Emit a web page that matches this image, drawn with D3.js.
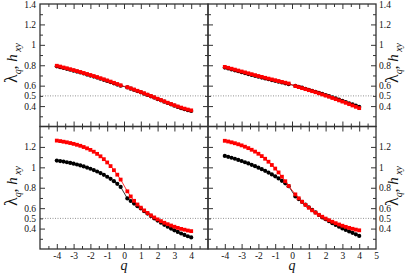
<!DOCTYPE html>
<html>
<head>
<meta charset="utf-8">
<script src="https://cdn.jsdelivr.net/npm/d3@7"></script>
<style>
body { margin: 0; background: #fff; }
</style>
</head>
<body>
<div id="chart"></div>
<script>
// q grid (q = 0 itself is not sampled)
var qVals = [-4, -3.8, -3.6, -3.4, -3.2, -3, -2.8, -2.6, -2.4, -2.2, -2, -1.8, -1.6, -1.4, -1.2, -1, -0.8, -0.6, -0.4, -0.2,
             0.2, 0.4, 0.6, 0.8, 1, 1.2, 1.4, 1.6, 1.8, 2, 2.2, 2.4, 2.6, 2.8, 3, 3.2, 3.4, 3.6, 3.8, 4];

// top left
var tlRed = [0.795, 0.787, 0.778, 0.770, 0.761, 0.752, 0.743, 0.734, 0.724, 0.714, 0.704, 0.694, 0.684, 0.673, 0.662, 0.651, 0.640, 0.628, 0.616, 0.604,
             0.585, 0.574, 0.562, 0.550, 0.538, 0.525, 0.512, 0.499, 0.486, 0.472, 0.459, 0.446, 0.433, 0.420, 0.408, 0.396, 0.385, 0.375, 0.366, 0.358];
var tlBlack = [0.789, 0.781, 0.773, 0.765, 0.756, 0.747, 0.738, 0.729, 0.719, 0.709, 0.699, 0.689, 0.679, 0.668, 0.657, 0.646, 0.635, 0.623, 0.611, 0.599,
               0.583, 0.571, 0.559, 0.547, 0.535, 0.522, 0.509, 0.496, 0.483, 0.469, 0.456, 0.443, 0.430, 0.417, 0.404, 0.392, 0.380, 0.370, 0.360, 0.352];
// top right
var trRed = [0.784, 0.775, 0.766, 0.757, 0.748, 0.739, 0.730, 0.721, 0.712, 0.703, 0.694, 0.686, 0.677, 0.669, 0.661, 0.653, 0.645, 0.637, 0.629, 0.621,
             0.596, 0.586, 0.576, 0.566, 0.556, 0.546, 0.536, 0.525, 0.514, 0.503, 0.492, 0.480, 0.468, 0.456, 0.444, 0.432, 0.419, 0.406, 0.393, 0.380];
var trBlack = [0.777, 0.768, 0.759, 0.750, 0.741, 0.732, 0.723, 0.714, 0.705, 0.696, 0.688, 0.679, 0.671, 0.663, 0.655, 0.647, 0.639, 0.631, 0.623, 0.615,
               0.598, 0.589, 0.580, 0.570, 0.560, 0.550, 0.540, 0.530, 0.519, 0.508, 0.497, 0.486, 0.475, 0.463, 0.451, 0.440, 0.428, 0.416, 0.404, 0.392];
// bottom left
var blRed = [1.262, 1.257, 1.251, 1.245, 1.238, 1.230, 1.221, 1.211, 1.199, 1.186, 1.171, 1.153, 1.132, 1.108, 1.080, 1.048, 1.012, 0.972, 0.928, 0.880,
             0.765, 0.715, 0.672, 0.636, 0.605, 0.578, 0.553, 0.530, 0.509, 0.490, 0.473, 0.457, 0.443, 0.430, 0.418, 0.407, 0.397, 0.389, 0.381, 0.375];
var blBlack = [1.066, 1.061, 1.056, 1.050, 1.043, 1.036, 1.028, 1.019, 1.009, 0.998, 0.986, 0.973, 0.959, 0.944, 0.927, 0.908, 0.887, 0.864, 0.838, 0.808,
               0.695, 0.670, 0.645, 0.620, 0.597, 0.570, 0.547, 0.524, 0.500, 0.478, 0.457, 0.437, 0.418, 0.400, 0.383, 0.367, 0.352, 0.338, 0.325, 0.313];
// bottom right
var brRed = [1.260, 1.253, 1.245, 1.236, 1.226, 1.215, 1.202, 1.188, 1.172, 1.154, 1.133, 1.110, 1.084, 1.055, 1.023, 0.988, 0.950, 0.908, 0.864, 0.818,
             0.735, 0.697, 0.663, 0.632, 0.604, 0.579, 0.556, 0.535, 0.516, 0.498, 0.482, 0.467, 0.453, 0.440, 0.428, 0.417, 0.407, 0.398, 0.390, 0.383];
var brBlack = [1.112, 1.103, 1.094, 1.084, 1.073, 1.062, 1.050, 1.038, 1.025, 1.011, 0.997, 0.982, 0.966, 0.949, 0.931, 0.912, 0.891, 0.868, 0.843, 0.815,
               0.715, 0.689, 0.662, 0.635, 0.609, 0.583, 0.558, 0.533, 0.509, 0.492, 0.472, 0.453, 0.435, 0.418, 0.402, 0.387, 0.372, 0.358, 0.344, 0.328];

var xMajor = [-4, -3, -2, -1, 0, 1, 2, 3, 4];
var xMinor = [-4.5, -3.5, -2.5, -1.5, -0.5, 0.5, 1.5, 2.5, 3.5, 4.5];
var xLabelsLeft = [-4, -3, -2, -1, 0, 1, 2, 3, 4];
var xLabelsRight = [-4, -3, -2, -1, 0, 1, 2, 3, 4, 5];
var yMajor = [0.4, 0.6, 0.8, 1, 1.2];
var yMinor = [0.3, 0.5, 0.7, 0.9, 1.1, 1.3];
var yLabelsTop = [0.4, 0.5, 0.6, 0.8, 1, 1.2, 1.4];
var yLabelsBottom = [0.4, 0.5, 0.6, 0.8, 1, 1.2];

var W = 415, H = 274;
var serif = "'Liberation Serif', 'DejaVu Serif', serif";
var axisColor = "#333";

var svg = d3.select("#chart").append("svg")
    .attr("width", W)
    .attr("height", H);

function styleAxis(g, size) {
    g.select(".domain").remove();
    g.attr("font-family", serif).attr("font-size", size || 9.5);
    g.selectAll("line").attr("stroke", axisColor);
    g.selectAll("text").attr("fill", "#111");
}

function drawPanel(x0, y0, w, h, redVals, blackVals, opt) {
    var x = d3.scaleLinear().domain([-5, 5]).range([x0, x0 + w]);
    var y = d3.scaleLinear().domain([0.2, 1.4]).range([y0 + h, y0]);
    var g = svg.append("g");

    // reference line at 0.5
    g.append("line")
        .attr("x1", x0).attr("x2", x0 + w)
        .attr("y1", y(0.5)).attr("y2", y(0.5))
        .attr("stroke", "#777")
        .attr("stroke-width", 0.8)
        .attr("stroke-dasharray", "1,1.5");

    // inward ticks on all four sides
    var sides = [
        [d3.axisLeft, "translate(" + x0 + ",0)", y, yMajor, yMinor],
        [d3.axisRight, "translate(" + (x0 + w) + ",0)", y, yMajor, yMinor],
        [d3.axisTop, "translate(0," + y0 + ")", x, xMajor, xMinor],
        [d3.axisBottom, "translate(0," + (y0 + h) + ")", x, xMajor, xMinor]
    ];
    sides.forEach(function(s) {
        g.append("g").attr("transform", s[1])
            .call(s[0](s[2]).tickValues(s[3]).tickSize(-5).tickSizeOuter(0).tickFormat(""))
            .call(styleAxis);
        g.append("g").attr("transform", s[1])
            .call(s[0](s[2]).tickValues(s[4]).tickSize(-3).tickSizeOuter(0).tickFormat(""))
            .call(styleAxis);
    });

    // tick labels
    if (opt.yLeft) {
        g.append("g").attr("transform", "translate(" + x0 + ",0)")
            .call(d3.axisLeft(y).tickValues(opt.yLabels).tickSize(0).tickPadding(4).tickFormat(d => String(d)))
            .call(styleAxis);
    } else {
        g.append("g").attr("transform", "translate(" + (x0 + w) + ",0)")
            .call(d3.axisRight(y).tickValues(opt.yLabels).tickSize(0).tickPadding(3).tickFormat(d => String(d)))
            .call(styleAxis);
    }
    if (opt.xLabels) {
        g.append("g").attr("transform", "translate(0," + (y0 + h) + ")")
            .call(d3.axisBottom(x).tickValues(opt.xLabels).tickSize(0).tickPadding(3).tickFormat(d => String(d)))
            .call(styleAxis);
    }

    // frame
    g.append("rect")
        .attr("x", x0).attr("y", y0)
        .attr("width", w).attr("height", h)
        .attr("fill", "none")
        .attr("stroke", axisColor)
        .attr("stroke-width", 1.3);

    var line = d3.line()
        .x(function(d, i) { return x(qVals[i]); })
        .y(function(d) { return y(d); });

    // black series (circles)
    g.append("path").datum(blackVals)
        .attr("d", line)
        .attr("fill", "none")
        .attr("stroke", "#000")
        .attr("stroke-width", 0.8);
    g.selectAll(".dot")
        .data(blackVals)
        .enter().append("circle")
        .attr("class", "dot")
        .attr("cx", function(d, i) { return x(qVals[i]); })
        .attr("cy", function(d) { return y(d); })
        .attr("r", 2.1)
        .attr("fill", "#000");

    // red series (squares)
    g.append("path").datum(redVals)
        .attr("d", line)
        .attr("fill", "none")
        .attr("stroke", "#f00")
        .attr("stroke-width", 0.8);
    g.selectAll(".sq")
        .data(redVals)
        .enter().append("rect")
        .attr("class", "sq")
        .attr("x", function(d, i) { return x(qVals[i]) - 1.9; })
        .attr("y", function(d) { return y(d) - 1.9; })
        .attr("width", 3.8)
        .attr("height", 3.8)
        .attr("fill", "#f00");
}

function yTitle(tx, ty) {
    var t = svg.append("text")
        .attr("transform", "translate(" + tx + "," + ty + ") rotate(-90)")
        .attr("text-anchor", "middle")
        .attr("font-family", serif)
        .attr("font-size", 15)
        .attr("fill", "#111");
    t.append("tspan").attr("font-size", 18).text("λ");
    t.append("tspan").attr("font-style", "italic").attr("font-size", 10).attr("dy", 4).text("q");
    t.append("tspan").attr("dy", -4).text(", ");
    t.append("tspan").attr("font-style", "italic").text("h");
    t.append("tspan").attr("font-style", "italic").attr("font-size", 10).attr("dy", 4).text(" xy");
}

function xTitle(tx, ty) {
    svg.append("text")
        .attr("x", tx).attr("y", ty)
        .attr("text-anchor", "middle")
        .attr("font-family", serif)
        .attr("font-style", "italic")
        .attr("font-size", 14)
        .attr("fill", "#111")
        .text("q");
}

var L = 40, M = 208, R = 376, T = 4, C = 126.5, B = 249;

drawPanel(L, T, M - L, C - T, tlRed, tlBlack, {yLeft: true, yLabels: yLabelsTop});
drawPanel(M, T, R - M, C - T, trRed, trBlack, {yLeft: false, yLabels: yLabelsTop});
drawPanel(L, C, M - L, B - C, blRed, blBlack, {yLeft: true, yLabels: yLabelsBottom, xLabels: xLabelsLeft});
drawPanel(M, C, R - M, B - C, brRed, brBlack, {yLeft: false, yLabels: yLabelsBottom, xLabels: xLabelsRight});

yTitle(17, 63);
yTitle(398, 63);
yTitle(17, 186);
yTitle(398, 186);
xTitle((L + M) / 2, 270);
xTitle((M + R) / 2, 270);
</script>
</body>
</html>
